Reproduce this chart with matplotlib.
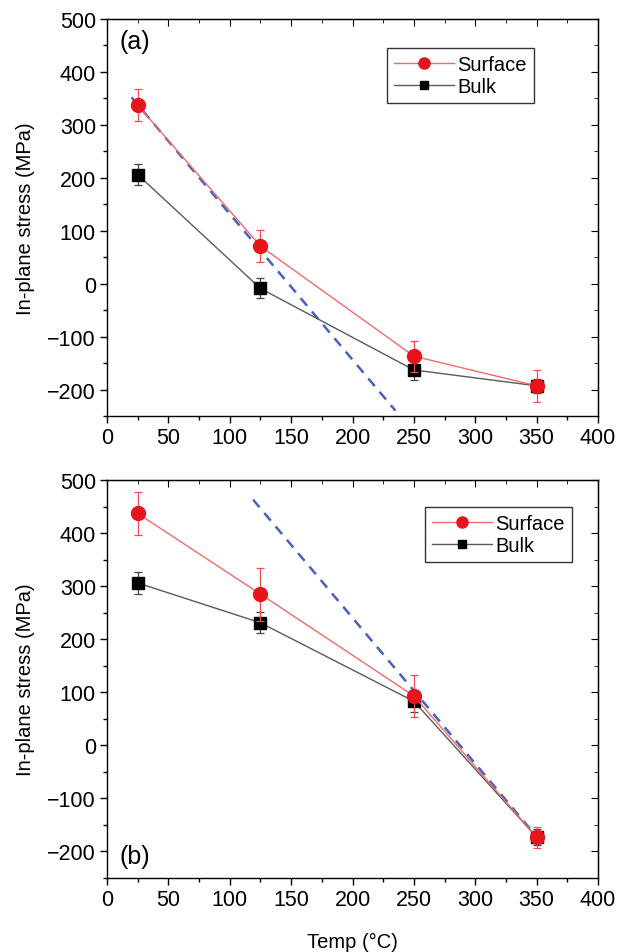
import numpy as np
import matplotlib
matplotlib.use("Agg")
import matplotlib.pyplot as plt
from matplotlib.ticker import MultipleLocator
from matplotlib.lines import Line2D

plt.rcParams['font.family'] = ['Liberation Sans', 'DejaVu Sans']

temps = [25, 125, 250, 350]

# Panel (a)
surf_a = [337, 71, -137, -193]
surf_a_err = [30, 30, 29, 30]
bulk_a = [206, -9, -163, -193]
bulk_a_err = [20, 19, 19, 13]
fit_a_x = [20, 235]
fit_a_y = [352, -240]

# Panel (b)
surf_b = [437, 285, 93, -173]
surf_b_err = [40, 50, 40, 20]
bulk_b = [306, 231, 83, -173]
bulk_b_err = [20, 20, 20, 15]
fit_b_x = [119, 350]
fit_b_y = [463, -172]

xticks = [0, 50, 100, 150, 200, 250, 300, 350, 400]
yticks = [-200, -100, 0, 100, 200, 300, 400, 500]

W, H = 631, 953
fig = plt.figure(figsize=(W / 100, H / 100), dpi=100)

def px_rect(l, t, r, b):
    return [l / W, 1 - b / H, (r - l) / W, (b - t) / H]

ax_a = fig.add_axes(px_rect(107, 20, 598, 417))
ax_b = fig.add_axes(px_rect(107, 481, 598, 879))

red_line = '#f26a6a'
red_mk = '#e8141c'
gray_line = '#5a5a5a'
blue = '#4a5fc0'

TICK_FS = 15.5
LABEL_FS = 14.5

def draw(ax, surf, serr, bulk, berr, fx, fy, leg_xy):
    ax.plot(fx, fy, ls=(0, (4, 3)), color=blue, lw=1.8, zorder=2)
    ax.errorbar(temps, bulk, yerr=berr, fmt='-s', color=gray_line, lw=1.0,
                ms=8.5, mfc='black', mec='black', ecolor='#444444',
                elinewidth=0.9, capsize=3, capthick=0.9, zorder=3)
    ax.errorbar(temps, surf, yerr=serr, fmt='-o', color=red_line, lw=1.0,
                ms=10, mfc=red_mk, mec=red_mk, ecolor='#f05050',
                elinewidth=0.9, capsize=3, capthick=0.9, zorder=4)
    ax.set_xlim(0, 400)
    ax.set_ylim(-250, 500)
    ax.set_xticks(xticks)
    ax.set_yticks(yticks)
    ax.xaxis.set_minor_locator(MultipleLocator(25))
    ax.yaxis.set_minor_locator(MultipleLocator(50))
    ax.tick_params(which='both', direction='out', labelsize=TICK_FS,
                   width=1.0, top=False, right=False, pad=3)
    ax.tick_params(which='major', length=5)
    ax.tick_params(which='minor', length=3)
    # inward ticks on the top and right spines
    sec_x = ax.secondary_xaxis('top')
    sec_x.set_xticks(xticks)
    sec_x.xaxis.set_minor_locator(MultipleLocator(25))
    sec_x.tick_params(which='both', direction='in', labeltop=False)
    sec_x.tick_params(which='major', length=5)
    sec_x.tick_params(which='minor', length=3)
    sec_y = ax.secondary_yaxis('right')
    sec_y.set_yticks(yticks)
    sec_y.yaxis.set_minor_locator(MultipleLocator(50))
    sec_y.tick_params(which='both', direction='in', labelright=False)
    sec_y.tick_params(which='major', length=5)
    sec_y.tick_params(which='minor', length=3)
    for s in ax.spines.values():
        s.set_linewidth(1.0)
    ax.set_ylabel('In-plane stress (MPa)', fontsize=LABEL_FS, labelpad=9)
    handles = [
        Line2D([], [], color=red_line, lw=1.0, marker='o', ms=8,
               mfc=red_mk, mec=red_mk),
        Line2D([], [], color=gray_line, lw=1.0, marker='s', ms=6,
               mfc='black', mec='black'),
    ]
    leg = ax.legend(handles, ['Surface', 'Bulk'], loc='upper left',
                    bbox_to_anchor=(leg_xy[0] / W, 1 - leg_xy[1] / H),
                    bbox_transform=fig.transFigure, fontsize=LABEL_FS,
                    numpoints=1, handlelength=3.0, handletextpad=0.15,
                    borderpad=0.35, labelspacing=0.15, fancybox=False,
                    framealpha=1, edgecolor='#333333', borderaxespad=0)
    leg.get_frame().set_linewidth(1.0)
    return ax

draw(ax_a, surf_a, surf_a_err, bulk_a, bulk_a_err, fit_a_x, fit_a_y, (387, 49))
ax_a.text(0.025, 0.975, '(a)', transform=ax_a.transAxes, fontsize=18,
          va='top', ha='left')
draw(ax_b, surf_b, surf_b_err, bulk_b, bulk_b_err, fit_b_x, fit_b_y, (425, 508))
ax_b.text(0.025, 0.025, '(b)', transform=ax_b.transAxes, fontsize=18,
          va='bottom', ha='left')
ax_b.set_xlabel('Temp (°C)', fontsize=LABEL_FS, labelpad=16)

fig.savefig('out.png', dpi=100)
